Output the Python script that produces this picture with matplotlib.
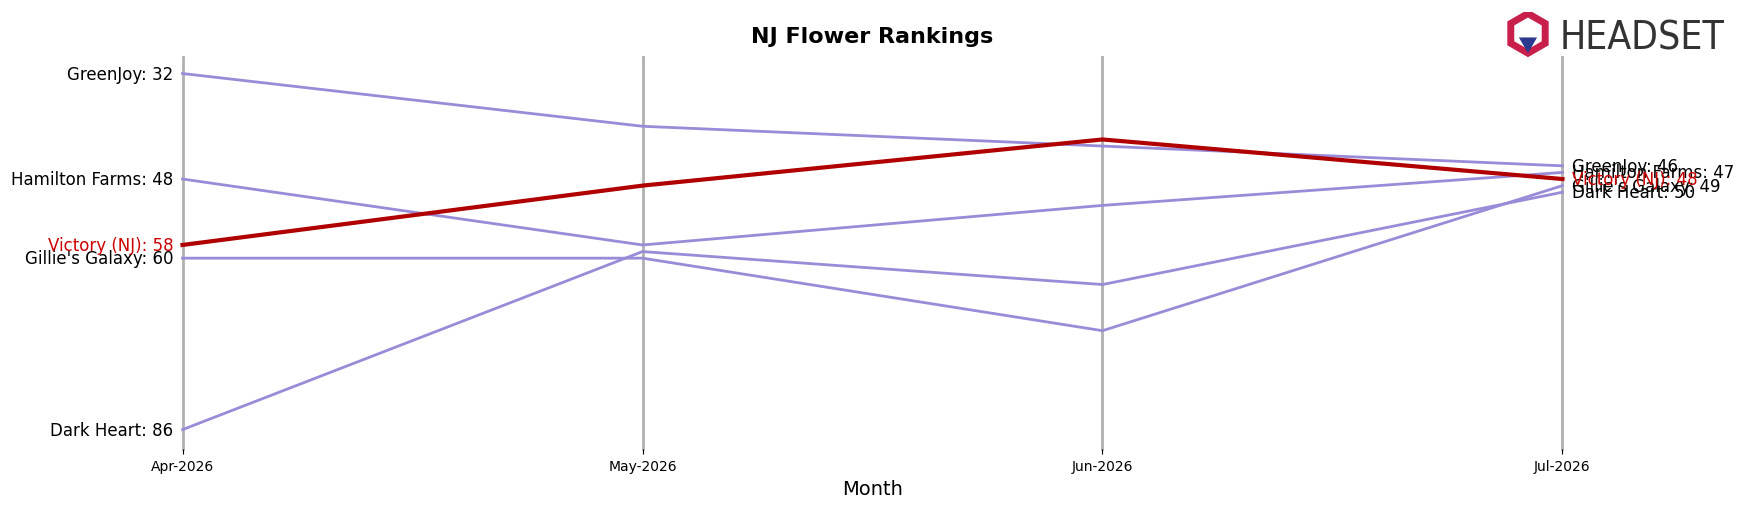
import matplotlib
matplotlib.use("Agg")
import matplotlib.pyplot as plt
from matplotlib.patches import RegularPolygon

months = ["Apr-2026", "May-2026", "Jun-2026", "Jul-2026"]
brands = ["GreenJoy", "Hamilton Farms", "Gillie's Galaxy", "Dark Heart", "Victory (NJ)"]
ranks = {
    "GreenJoy":        [32, 40, 43, 46],
    "Hamilton Farms":  [48, 58, 52, 47],
    "Gillie's Galaxy": [60, 60, 71, 49],
    "Dark Heart":      [86, 59, 64, 50],
    "Victory (NJ)":    [58, 49, 42, 48],
}
highlight = "Victory (NJ)"

W, H = 1568, 455  # reference layout measured at this scale
fig = plt.figure(figsize=(17.45, 5.06), dpi=100)
ax = fig.add_axes([164 / W, (H - 405) / H, 1240 / W, 353 / H])
x = list(range(len(months)))

for i in x:
    ax.axvline(i, color="#b0b0b0", lw=2, zorder=0, clip_on=False)

for b in brands:
    r = ranks[b]
    if b == highlight:
        ax.plot(x, r, color="#b00000", lw=3, zorder=3, clip_on=False)
        c = "#cc0000"
    else:
        ax.plot(x, r, color="#9a8bd8", lw=2, zorder=2, clip_on=False)
        c = "black"
    ax.text(-0.02, r[0], f"{b}: {r[0]}", ha="right", va="center", fontsize=12, color=c)
    ax.text(3.02, r[-1], f"{b}: {r[-1]}", ha="left", va="center", fontsize=12, color=c)

ax.set_xlim(0, 3)
ax.set_ylim(89.0, 29.47)
ax.set_xticks(x)
ax.set_xticklabels(months, fontsize=10)
ax.set_yticks([])
for sp in ax.spines.values():
    sp.set_visible(False)
ax.set_xlabel("Month", fontsize=14)
fig.text(784 / W, 1 - 33 / H, "NJ Flower Rankings", ha="center", va="center",
         fontsize=16, fontweight="bold")

# logo
fig.text(1401 / W, 1 - 35 / H, "HEADSET", ha="left", va="center",
         fontsize=28, color="#333333", fontstretch="condensed")
lax = fig.add_axes([1352 / W, 1 - 54 / H, 42 / W, 42 / H])
lax.set_xlim(-1, 1); lax.set_ylim(-1, 1); lax.axis("off")
lax.add_patch(RegularPolygon((0, 0.1), 6, radius=0.85, facecolor="none",
                             edgecolor="#c8204a", lw=5))
lax.add_patch(RegularPolygon((0, -0.3), 3, radius=0.45, orientation=3.1416,
                             facecolor="#2b3a8f"))

fig.savefig("out.png", dpi=100, facecolor="white")
